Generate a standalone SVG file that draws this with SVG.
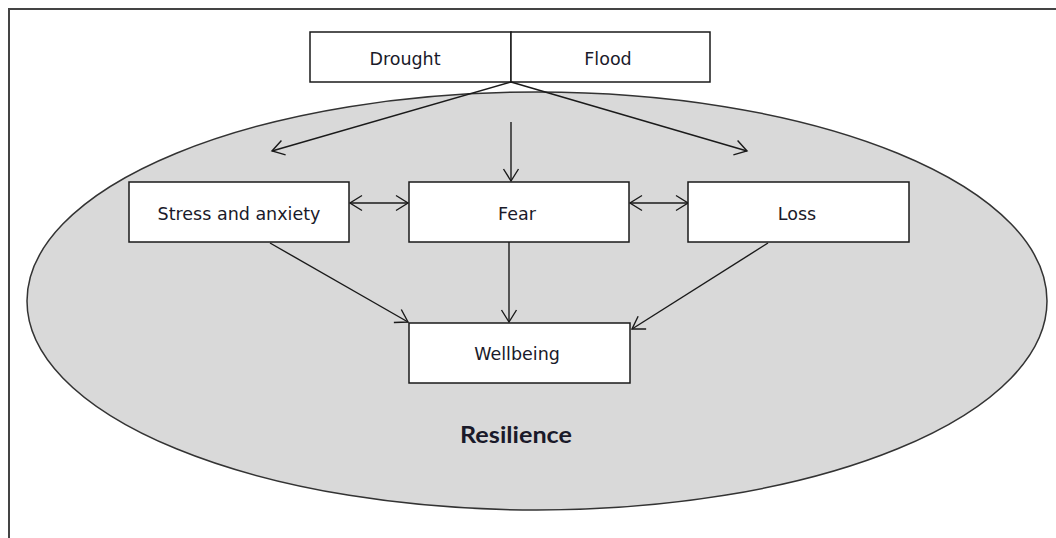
<svg xmlns="http://www.w3.org/2000/svg" width="1056" height="538" viewBox="0 0 1056 538">
<style>
.box{fill:#ffffff;stroke:#1a1a1a;stroke-width:1.5}
.lbl{font-family:"DejaVu Sans","Liberation Sans",sans-serif;font-size:17.5px;fill:#1a1a2a;text-anchor:middle}
.con{stroke:#1a1a1a;stroke-width:1.4;fill:none}
</style>
<defs>
<marker id="ah" markerUnits="userSpaceOnUse" viewBox="-13 -9 16 18" markerWidth="16" markerHeight="18" refX="0" refY="0" orient="auto-start-reverse">
<path d="M-12,-7.5 L0,0 L-12,7.5" fill="none" stroke="#1a1a1a" stroke-width="1.4"/>
</marker>
</defs>
<rect width="1056" height="538" fill="#ffffff"/>
<path d="M9,538 V9 H1056" fill="none" stroke="#444" stroke-width="2"/>
<g id="resilience">
<ellipse cx="537" cy="301" rx="510" ry="209" fill="#d9d9d9" stroke="#333" stroke-width="1.5"/>
<text x="516" y="443" font-family="Lato,'Open Sans',sans-serif" font-weight="bold" font-size="23" fill="#1a1a2a" text-anchor="middle" textLength="112" lengthAdjust="spacingAndGlyphs">Resilience</text>
</g>
<g id="drought">
<rect class="box" x="310" y="32" width="201" height="50"/>
<text class="lbl" x="405" y="65">Drought</text>
</g>
<g id="flood">
<rect class="box" x="511" y="32" width="199" height="50"/>
<text class="lbl" x="608" y="65">Flood</text>
</g>
<g id="connectors">
<line class="con" x1="511" y1="82" x2="272" y2="151" marker-end="url(#ah)"/>
<line class="con" x1="511" y1="82" x2="747" y2="151" marker-end="url(#ah)"/>
<line class="con" x1="511" y1="122" x2="511" y2="181" marker-end="url(#ah)"/>
<line class="con" x1="350" y1="203" x2="408" y2="203" marker-start="url(#ah)" marker-end="url(#ah)"/>
<line class="con" x1="630" y1="203" x2="688" y2="203" marker-start="url(#ah)" marker-end="url(#ah)"/>
<line class="con" x1="270" y1="243" x2="408" y2="322" marker-end="url(#ah)"/>
<line class="con" x1="509" y1="242" x2="509" y2="322" marker-end="url(#ah)"/>
<line class="con" x1="768" y1="243" x2="632" y2="329" marker-end="url(#ah)"/>
</g>
<g id="stress">
<rect class="box" x="129" y="182" width="220" height="60"/>
<text class="lbl" x="239" y="220">Stress and anxiety</text>
</g>
<g id="fear">
<rect class="box" x="409" y="182" width="220" height="60"/>
<text class="lbl" x="517" y="220">Fear</text>
</g>
<g id="loss">
<rect class="box" x="688" y="182" width="221" height="60"/>
<text class="lbl" x="797" y="220">Loss</text>
</g>
<g id="wellbeing">
<rect class="box" x="409" y="323" width="221" height="60"/>
<text class="lbl" x="517" y="360">Wellbeing</text>
</g>
</svg>
